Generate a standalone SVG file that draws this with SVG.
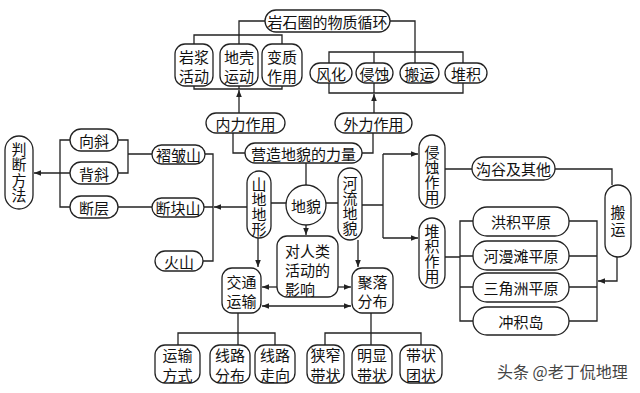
<svg xmlns="http://www.w3.org/2000/svg" width="640" height="393" viewBox="0 0 640 393">
<style>
.b{fill:#fff;stroke:#222;stroke-width:1.3}
.t{font-family:"Noto Sans CJK SC","Noto Sans",sans-serif;font-size:15px;fill:#111;text-anchor:middle;dominant-baseline:central}
.s{text-anchor:start}
.v{writing-mode:vertical-rl;text-orientation:upright}
.l{fill:none;stroke:#222;stroke-width:1.3}
.wm{font-family:"Noto Sans CJK SC","Noto Sans",sans-serif;font-size:16px;fill:#444;dominant-baseline:central}
</style>
<defs>
<marker id="ah" viewBox="0 0 10 10" refX="10" refY="5" markerWidth="8" markerHeight="7" orient="auto-start-reverse" markerUnits="userSpaceOnUse"><path d="M0,1 L10,5 L0,9 z" fill="#222"/></marker>
</defs>
<rect width="640" height="393" fill="#fff"/>

<g id="connectors">
<path class="l" d="M265,21 H239 V44 M390,21 H415 V63"/>
<path class="l" d="M194,44 V35 H282 V44"/>
<path class="l" d="M194,86 V89 H282 V86 M239,86 V89"/>
<path class="l" marker-end="url(#ah)" d="M239,113 V90"/>
<path class="l" d="M329,63 V52 H463 V63 M374,52 V63"/>
<path class="l" d="M329,83 V93 H463 V83 M374,83 V93"/>
<path class="l" marker-end="url(#ah)" d="M374,113 V94"/>
<path class="l" d="M233,133 V153 H245 M373,133 V153 H362"/>
<path class="l" d="M306,163 V185"/>
<path class="l" d="M271,203 H286 M326,203 H338"/>
<path class="l" marker-end="url(#ah)" d="M306,225 V235"/>
<path class="l" marker-end="url(#ah)" d="M247,207 H214"/>
<path class="l" d="M205,154 H213 V261 H203 M204,207 H213"/>
<path class="l" d="M118,140 H128 V173 H118 M128,154 H152"/>
<path class="l" d="M118,207 H152"/>
<path class="l" d="M70,140 H60 V207 H70"/>
<path class="l" marker-end="url(#ah)" d="M70,173 H34"/>
<path class="l" marker-end="url(#ah)" d="M258,238 V267"/>
<path class="l" marker-end="url(#ah)" d="M358,240 V267"/>
<path class="l" marker-end="url(#ah)" d="M277,287 H262"/>
<path class="l" marker-end="url(#ah)" d="M338,287 H351"/>
<path class="l" marker-start="url(#ah)" marker-end="url(#ah)" d="M262,306 H351"/>
<path class="l" d="M238,313 V345 M178,345 V333 H275 V345"/>
<path class="l" d="M371,313 V345 M325,345 V333 H421 V345"/>
<path class="l" d="M362,205 H383 V154 M383,205 V238"/>
<path class="l" marker-end="url(#ah)" d="M383,154 H418"/>
<path class="l" marker-end="url(#ah)" d="M383,238 H418"/>
<path class="l" d="M445,169 H472 M555,169 H612 V185"/>
<path class="l" d="M445,257 H460 M473,221 H460 V321 H473 M460,256 H473 M460,287 H473"/>
<path class="l" d="M569,221 H597 V321 H569 M569,256 H597 M569,287 H597"/>
<path class="l" marker-end="url(#ah)" d="M617,257 V281 H598"/>
</g>

<g id="n-cycle"><rect class="b" x="265" y="10" width="125" height="22" rx="11"/><text class="t" x="327.5" y="21">岩石圈的物质循环</text></g>
<g id="n-magma"><rect class="b" x="175" y="44" width="38" height="42" rx="10"/><text class="t" x="194" y="56">岩浆<tspan x="194" dy="19">活动</tspan></text></g>
<g id="n-crust"><rect class="b" x="220" y="44" width="38" height="42" rx="10"/><text class="t" x="239" y="56">地壳<tspan x="239" dy="19">运动</tspan></text></g>
<g id="n-meta"><rect class="b" x="262" y="44" width="40" height="42" rx="10"/><text class="t" x="282" y="56">变质<tspan x="282" dy="19">作用</tspan></text></g>
<g id="n-weather"><rect class="b" x="310" y="63" width="42" height="20" rx="10"/><text class="t" x="331" y="73">风化</text></g>
<g id="n-erode"><rect class="b" x="356" y="63" width="37" height="20" rx="10"/><text class="t" x="374.5" y="73">侵蚀</text></g>
<g id="n-trans"><rect class="b" x="400" y="63" width="39" height="20" rx="10"/><text class="t" x="419.5" y="73">搬运</text></g>
<g id="n-depo"><rect class="b" x="445" y="63" width="42" height="20" rx="10"/><text class="t" x="466" y="73">堆积</text></g>
<g id="n-inner"><rect class="b" x="206" y="113" width="79" height="20" rx="10"/><text class="t" x="245.5" y="123">内力作用</text></g>
<g id="n-outer"><rect class="b" x="335" y="113" width="77" height="20" rx="10"/><text class="t" x="373.5" y="123">外力作用</text></g>
<g id="n-force"><rect class="b" x="245" y="143" width="117" height="20" rx="10"/><text class="t" x="303.5" y="153">营造地貌的力量</text></g>
<g id="n-landform"><circle class="b" cx="306" cy="205" r="20"/><text class="t" x="306" y="205">地貌</text></g>
<g id="n-mount"><rect class="b" x="247" y="171" width="24" height="67" rx="12"/><text class="t v" x="259" y="206.5">山地地形</text></g>
<g id="n-river"><rect class="b" x="338" y="168" width="24" height="72" rx="12"/><text class="t v" x="350" y="205.5">河流地貌</text></g>
<g id="n-fold"><rect class="b" x="152" y="145" width="53" height="19" rx="9.5"/><text class="t" x="178.5" y="154.5">褶皱山</text></g>
<g id="n-block"><rect class="b" x="152" y="198" width="52" height="19" rx="9.5"/><text class="t" x="178" y="207.5">断块山</text></g>
<g id="n-volc"><rect class="b" x="155" y="251" width="48" height="20" rx="10"/><text class="t" x="179" y="261">火山</text></g>
<g id="n-syn"><rect class="b" x="70" y="129" width="48" height="22" rx="11"/><text class="t" x="94" y="140">向斜</text></g>
<g id="n-anti"><rect class="b" x="70" y="162" width="48" height="22" rx="11"/><text class="t" x="94" y="173">背斜</text></g>
<g id="n-fault"><rect class="b" x="70" y="196" width="48" height="22" rx="11"/><text class="t" x="94" y="207">断层</text></g>
<g id="n-judge"><rect class="b" x="5" y="136" width="28" height="73" rx="14"/><text class="t v" x="19" y="172.5" letter-spacing="0.5">判断方法</text></g>
<g id="n-traffic"><rect class="b" x="222" y="268" width="39" height="45" rx="10"/><text class="t" x="241.5" y="281">交通<tspan x="241.5" dy="19">运输</tspan></text></g>
<g id="n-impact"><rect class="b" x="277" y="236" width="61" height="61" rx="10"/><text class="t s" x="285" y="250">对人类<tspan x="285" dy="19">活动的</tspan><tspan x="285" dy="19">影响</tspan></text></g>
<g id="n-settle"><rect class="b" x="352" y="268" width="41" height="45" rx="10"/><text class="t" x="372.5" y="281">聚落<tspan x="372.5" dy="19">分布</tspan></text></g>
<g id="n-mode"><rect class="b" x="155" y="345" width="45" height="38" rx="10"/><text class="t" x="177.5" y="354.5">运输<tspan x="177.5" dy="19">方式</tspan></text></g>
<g id="n-dist"><rect class="b" x="210" y="345" width="40" height="38" rx="10"/><text class="t" x="230" y="354.5">线路<tspan x="230" dy="19">分布</tspan></text></g>
<g id="n-dir"><rect class="b" x="255" y="345" width="40" height="38" rx="10"/><text class="t" x="275" y="354.5">线路<tspan x="275" dy="19">走向</tspan></text></g>
<g id="n-narrow"><rect class="b" x="307" y="345" width="37" height="38" rx="10"/><text class="t" x="325.5" y="354.5">狭窄<tspan x="325.5" dy="19">带状</tspan></text></g>
<g id="n-clear"><rect class="b" x="352" y="345" width="40" height="38" rx="10"/><text class="t" x="372" y="354.5">明显<tspan x="372" dy="19">带状</tspan></text></g>
<g id="n-cluster"><rect class="b" x="400" y="345" width="42" height="38" rx="10"/><text class="t" x="421" y="354.5">带状<tspan x="421" dy="19">团状</tspan></text></g>
<g id="n-erosion"><rect class="b" x="419" y="135" width="26" height="73" rx="13"/><text class="t v" x="432" y="174.5">侵蚀作用</text></g>
<g id="n-deposit"><rect class="b" x="419" y="218" width="26" height="70" rx="13"/><text class="t v" x="432" y="254">堆积作用</text></g>
<g id="n-gully"><rect class="b" x="472" y="157" width="83" height="23" rx="11.5"/><text class="t" x="513.5" y="168.5">沟谷及其他</text></g>
<g id="n-carry"><rect class="b" x="605" y="185" width="26" height="72" rx="13"/><text class="t v" x="618" y="222" letter-spacing="2">搬运</text></g>
<g id="n-alluv"><rect class="b" x="473" y="207" width="96" height="29" rx="14"/><text class="t" x="521" y="221.5">洪积平原</text></g>
<g id="n-flood"><rect class="b" x="473" y="241" width="96" height="29" rx="14"/><text class="t" x="521" y="255.5">河漫滩平原</text></g>
<g id="n-delta"><rect class="b" x="473" y="273" width="96" height="29" rx="14"/><text class="t" x="521" y="287.5">三角洲平原</text></g>
<g id="n-island"><rect class="b" x="473" y="307" width="96" height="28" rx="14"/><text class="t" x="521" y="321">冲积岛</text></g>

<text class="wm" x="497" y="371">头条 @老丁侃地理</text>
</svg>
